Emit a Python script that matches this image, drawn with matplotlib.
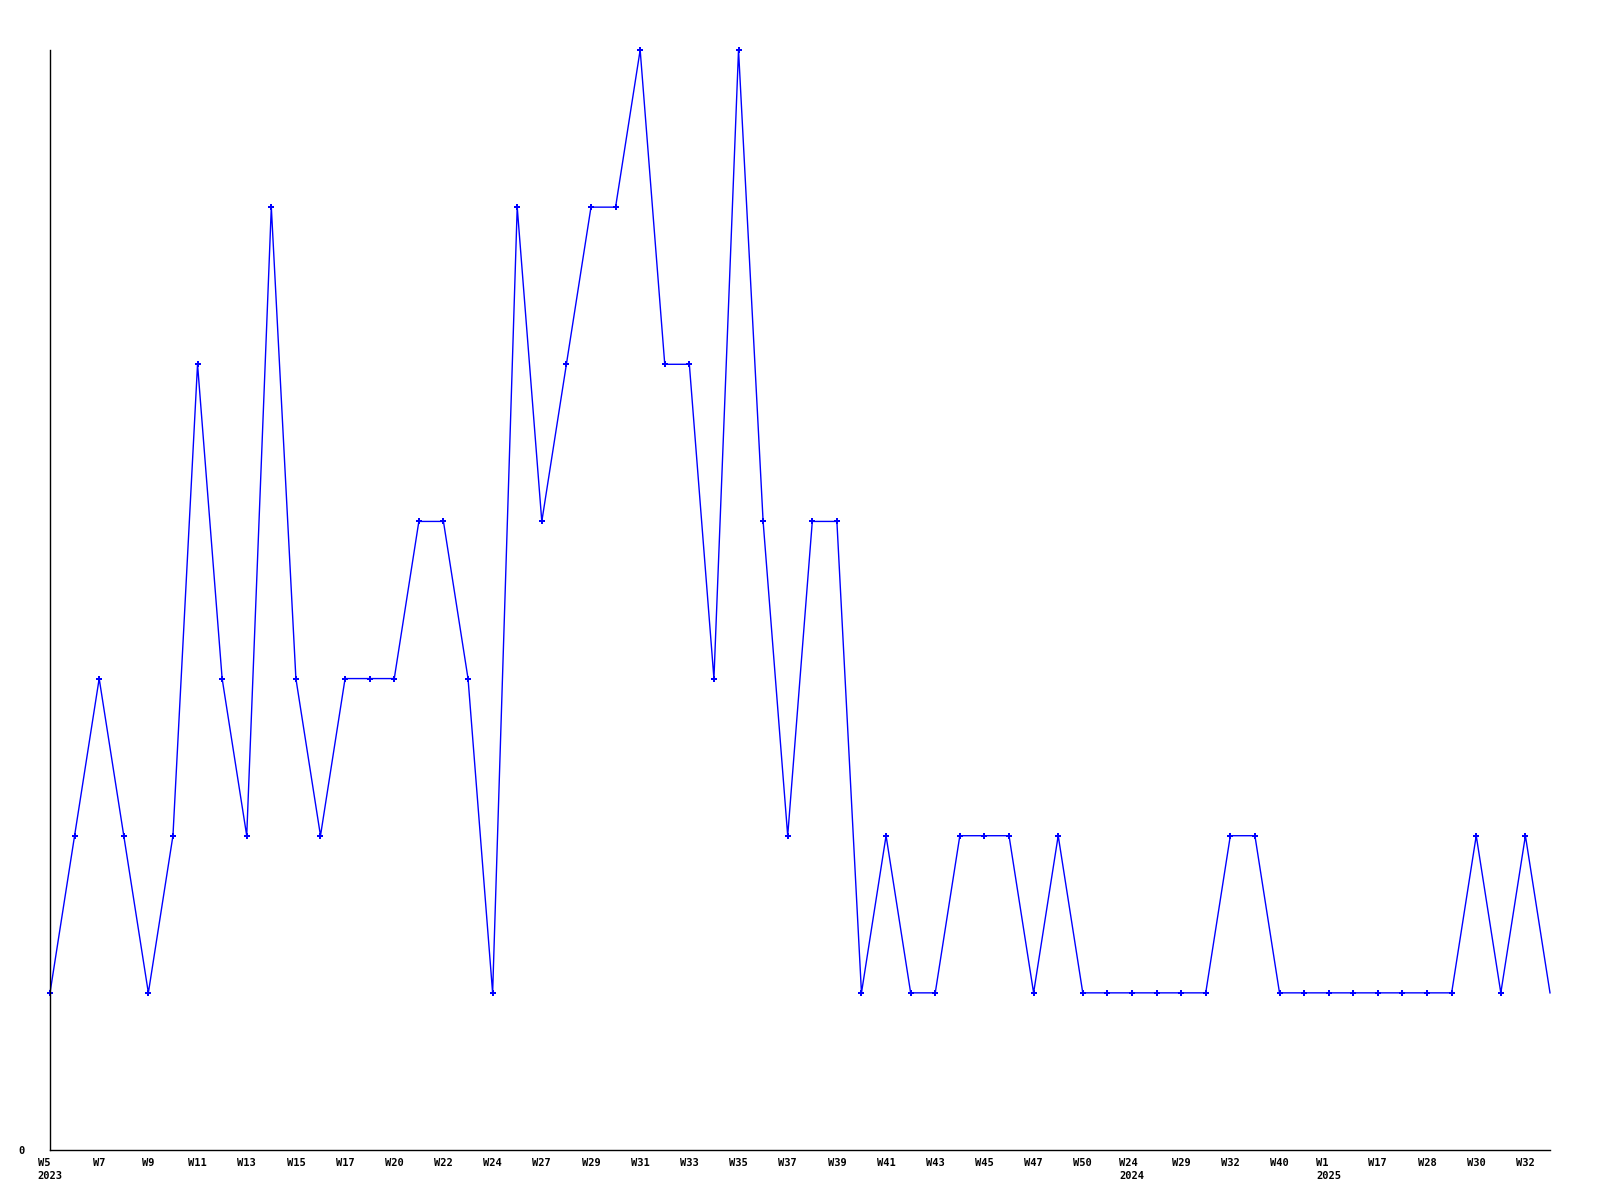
import matplotlib
matplotlib.use('Agg')
import matplotlib.pyplot as plt

# weekly counts, one value per point (left to right)
values = [1, 2, 3, 2, 1, 2, 5, 3, 2, 6,
          3, 2, 3, 3, 3, 4, 4, 3, 1, 6,
          4, 5, 6, 6, 7, 5, 5, 3, 7, 4,
          2, 4, 4, 1, 2, 1, 1, 2, 2, 2,
          1, 2, 1, 1, 1, 1, 1, 1, 2, 2,
          1, 1, 1, 1, 1, 1, 1, 1, 2, 1,
          2, 1]

# labels shown on every other point
tick_labels = ['W5\n2023', 'W7', 'W9', 'W11', 'W13', 'W15', 'W17', 'W20',
               'W22', 'W24', 'W27', 'W29', 'W31', 'W33', 'W35', 'W37', 'W39',
               'W41', 'W43', 'W45', 'W47', 'W50', 'W24\n2024', 'W29', 'W32',
               'W40', 'W1\n2025', 'W17', 'W28', 'W30', 'W32']

FONT = dict(family='DejaVu Sans Mono', weight='bold', size=7.5)

fig = plt.figure(figsize=(16, 12), dpi=100)
ax = fig.add_axes([50 / 1600, 50 / 1200, 1500 / 1600, 1100 / 1200])

x = list(range(len(values)))
ax.plot(x, values, color='#0000ff', lw=1.0, marker='P', markersize=4.5,
        markeredgewidth=0, markevery=list(range(len(values) - 1)),
        clip_on=False)

ax.set_xlim(0, len(values) - 1)
ax.set_ylim(0, 7)

ax.set_xticks(x[::2])
ax.set_xticklabels(tick_labels, fontdict=FONT, multialignment='left',
                   linespacing=1.3)
ax.set_yticks([0])
ax.set_yticklabels(['0'], fontdict=FONT)
ax.tick_params(axis='x', length=0, pad=6)
ax.tick_params(axis='y', length=0, pad=18)

for side in ('top', 'right'):
    ax.spines[side].set_visible(False)
for side in ('left', 'bottom'):
    ax.spines[side].set_linewidth(1.0)
    ax.spines[side].set_color('black')

fig.savefig('out.png', dpi=100)
